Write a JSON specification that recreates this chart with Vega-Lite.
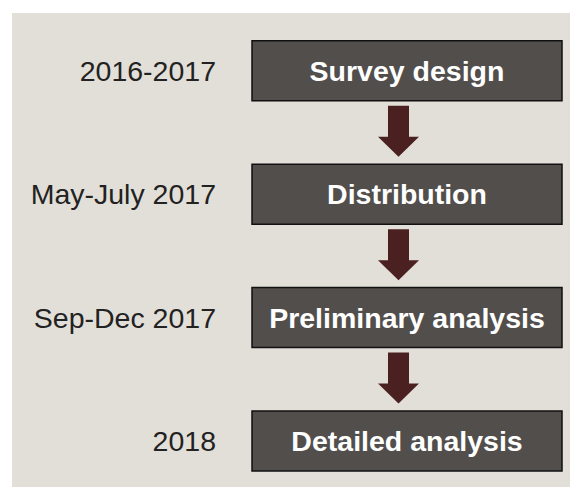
{
  "$schema": "https://vega.github.io/schema/vega-lite/v6.json",
  "width": 558,
  "height": 474,
  "autosize": {"type": "none"},
  "padding": {"left": 12, "top": 13, "right": 4, "bottom": 0},
  "background": "white",
  "config": {"view": {"fill": "#e2dfd8", "stroke": null}},
  "data": {
    "values": [
      {"step": 1, "period": "2016-2017", "label": "Survey design"},
      {"step": 2, "period": "May-July 2017", "label": "Distribution"},
      {"step": 3, "period": "Sep-Dec 2017", "label": "Preliminary analysis"},
      {"step": 4, "period": "2018", "label": "Detailed analysis"}
    ]
  },
  "encoding": {
    "y": {
      "field": "step",
      "type": "quantitative",
      "scale": {"domain": [0.57143, 4.33333], "reverse": true, "nice": false, "zero": false},
      "axis": null
    }
  },
  "layer": [
    {
      "mark": {"type": "bar", "orient": "horizontal", "size": 60, "fill": "#524e4c", "stroke": "#111111", "strokeWidth": 1.5},
      "encoding": {
        "x": {"datum": 252, "type": "quantitative", "scale": {"domain": [12, 570], "nice": false, "zero": false}, "axis": null},
        "x2": {"datum": 562}
      }
    },
    {
      "transform": [{"filter": "datum.step < 4"}],
      "mark": {
        "type": "point",
        "shape": "M -0.412 -1 L 0.412 -1 L 0.412 0.216 L 0.804 0.216 L 0 1 L -0.804 0.216 L -0.412 0.216 Z",
        "size": 2601,
        "filled": true,
        "fill": "#4a2020",
        "opacity": 1,
        "strokeWidth": 0,
        "yOffset": 60.5
      },
      "encoding": {
        "x": {"datum": 398.5, "type": "quantitative"}
      }
    },
    {
      "mark": {"type": "text", "align": "center", "baseline": "middle", "font": "Liberation Sans", "fontWeight": "bold", "fontSize": 28.5, "fill": "#ffffff", "dy": 1},
      "encoding": {
        "x": {"datum": 407, "type": "quantitative"},
        "text": {"field": "label"}
      }
    },
    {
      "mark": {"type": "text", "align": "right", "baseline": "middle", "font": "Liberation Sans", "fontSize": 28.5, "fill": "#222222", "dy": 1},
      "encoding": {
        "x": {"datum": 216, "type": "quantitative"},
        "text": {"field": "period"}
      }
    }
  ]
}
